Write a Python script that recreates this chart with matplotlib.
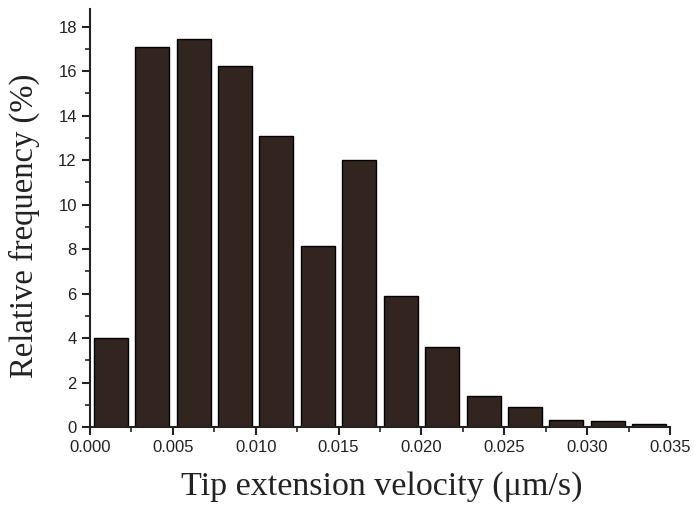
import matplotlib
matplotlib.use("Agg")
import matplotlib.pyplot as plt
import numpy as np
from matplotlib.ticker import MultipleLocator

bin_width = 0.0025
bin_centers = [(i + 0.5) * 0.0025 for i in range(14)]
freq = [4.0, 17.08, 17.45, 16.25, 13.08, 8.12, 12.03, 5.91, 3.59, 1.41, 0.90, 0.30, 0.26, 0.13]
x_ticks = [0.000, 0.005, 0.010, 0.015, 0.020, 0.025, 0.030, 0.035]
y_ticks = [0, 2, 4, 6, 8, 10, 12, 14, 16, 18]

fig = plt.figure(figsize=(6.95, 5.07), dpi=100)
ax = fig.add_axes([90/695, 80/507, 580/695, 418/507])

ax.bar(bin_centers, freq, width=0.00205, color='#32241f', edgecolor='black', linewidth=1.0)

ax.set_xlim(0, 0.035)
ax.set_ylim(0, 18.8)
ax.set_xticks(x_ticks)
ax.set_xticklabels([f"{v:.3f}" for v in x_ticks])
ax.set_yticks(y_ticks)
ax.xaxis.set_minor_locator(MultipleLocator(0.0025))
ax.yaxis.set_minor_locator(MultipleLocator(1))

for s in ['top', 'right']:
    ax.spines[s].set_visible(False)
for s in ['left', 'bottom']:
    ax.spines[s].set_linewidth(1.5)
    ax.spines[s].set_color('#222222')

ax.tick_params(axis='both', which='major', direction='out', length=6, width=1.5, labelsize=12, colors='#222222')
ax.tick_params(axis='both', which='minor', direction='out', length=3.5, width=1.2, colors='#222222')
for lab in ax.get_xticklabels() + ax.get_yticklabels():
    lab.set_fontfamily('Liberation Sans')

ax.set_xlabel('Tip extension velocity (\u03bcm/s)', fontsize=24.5, family='Liberation Serif', color='#222222')
ax.set_ylabel('Relative frequency (%)', fontsize=23.5, family='Liberation Serif', color='#222222')
# label positions in axes coordinates
ax.xaxis.set_label_coords((382 - 90) / 580, -(487 - 427) / 418)
ax.yaxis.set_label_coords(-(90 - 24) / 580, (427 - 226) / 418)
ax.xaxis.label.set_va('center')
ax.yaxis.label.set_va('center')

fig.savefig('out.png', dpi=100)
